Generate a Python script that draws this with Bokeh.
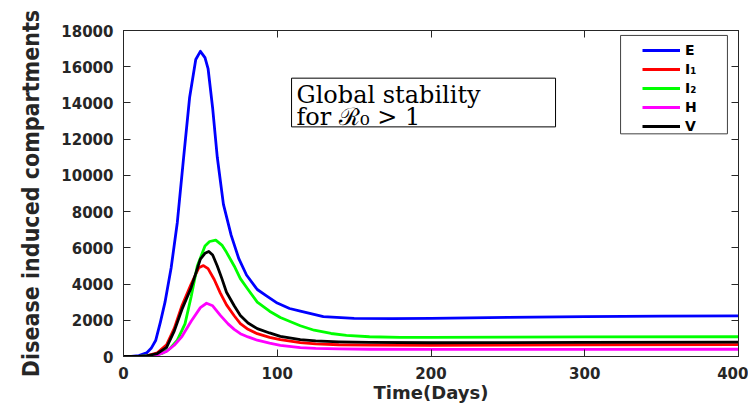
from bokeh.plotting import figure
from bokeh.models import (Range1d, LinearAxis, FixedTicker, Legend, LegendItem,
                          BoxAnnotation, Label)
from bokeh.embed import file_html
from bokeh.resources import INLINE

# ---- data ----
e_days = [0, 5, 10, 15, 18, 21, 24, 27, 31, 35, 39, 43, 47, 50, 53, 55, 58, 61, 65,
          70, 75, 80, 87, 93, 100, 108, 115, 130, 150, 175, 200, 250, 300, 350, 400]
e_vals = [0, 10, 50, 200, 450, 900, 1900, 3000, 4900, 7400, 10900, 14300, 16400,
          16850, 16500, 15900, 13700, 11000, 8400, 6700, 5400, 4500, 3700, 3350, 2950,
          2650, 2500, 2200, 2110, 2090, 2110, 2160, 2200, 2225, 2240]

i1_days = [0, 10, 15, 22, 28, 33, 38, 44, 49, 52, 55, 59, 63, 67, 72, 76, 81, 87, 95,
           102, 115, 125, 140, 160, 200, 300, 400]
i1_vals = [0, 10, 40, 200, 650, 1550, 2800, 4000, 4900, 5020, 4850, 4250, 3500, 2850,
           2250, 1820, 1500, 1260, 1060, 930, 770, 700, 650, 625, 620, 650, 660]

i2_days = [0, 10, 20, 25, 30, 35, 40, 44, 48, 53, 56, 60, 64, 67, 72, 76, 81, 87, 95,
           102, 115, 124, 135, 145, 160, 180, 200, 250, 300, 400]
i2_vals = [0, 5, 60, 170, 420, 900, 1800, 3300, 5000, 6100, 6350, 6430, 6150, 5750,
           5000, 4300, 3700, 3000, 2500, 2150, 1700, 1450, 1270, 1170, 1090, 1060, 1055,
           1065, 1080, 1090]

h_days = [0, 10, 15, 22, 28, 33, 38, 44, 50, 54, 58, 63, 68, 72, 76, 81, 87, 95, 102,
          115, 125, 140, 160, 200, 300, 400]
h_vals = [0, 5, 20, 80, 280, 620, 1100, 1950, 2700, 2940, 2800, 2270, 1800, 1500, 1260,
          1080, 900, 740, 620, 490, 450, 420, 400, 390, 390, 400]

v_days = [0, 10, 15, 22, 28, 33, 38, 44, 50, 53, 55.5, 58, 61, 64, 67, 72, 76, 81, 87,
          95, 102, 115, 125, 140, 160, 200, 300, 400]
v_vals = [0, 10, 40, 165, 500, 1400, 2600, 3800, 5380, 5700, 5800, 5600, 5000, 4300,
          3550, 2800, 2270, 1850, 1540, 1300, 1115, 930, 860, 810, 775, 760, 780, 790]

series_names = ["E", "I\u2081", "I\u2082", "H", "V"]
series_colors = ["#0000ff", "#ff0000", "#00ff00", "#ff00ff", "#000000"]

x_ticks = [0, 100, 200, 300, 400]
y_ticks = [0, 2000, 4000, 6000, 8000, 10000, 12000, 14000, 16000, 18000]

AX = "#262626"
TICK_FONT = "DejaVu Sans"

p = figure(width=748, height=405, output_backend="svg", toolbar_location=None,
           x_range=Range1d(0, 400), y_range=Range1d(0, 18000),
           min_border_left=123, min_border_right=10, min_border_top=30,
           min_border_bottom=47)
p.grid.visible = False
p.outline_line_color = AX
p.outline_line_width = 1
p.background_fill_color = "white"
p.border_fill_color = "white"

for ax in (p.xaxis[0], p.yaxis[0]):
    ax.axis_line_color = AX
    ax.major_tick_line_color = AX
    ax.major_tick_in = 7
    ax.major_tick_out = 0
    ax.minor_tick_line_color = None
    ax.major_label_text_font = TICK_FONT
    ax.major_label_text_font_style = "bold"
    ax.major_label_text_color = AX
    ax.axis_label_text_color = AX
    ax.axis_label_text_font_style = "bold"

p.xaxis[0].ticker = FixedTicker(ticks=x_ticks)
p.yaxis[0].ticker = FixedTicker(ticks=y_ticks)
p.xaxis[0].major_label_text_font_size = "15px"
p.yaxis[0].major_label_text_font_size = "15px"
p.xaxis[0].major_label_standoff = 10
p.yaxis[0].major_label_standoff = 10
p.xaxis[0].axis_label = "Time(Days)"
p.xaxis[0].axis_label_text_font = TICK_FONT
p.xaxis[0].axis_label_text_font_size = "18px"
p.xaxis[0].axis_label_standoff = 0
p.yaxis[0].axis_label = "Disease induced compartments"
p.yaxis[0].axis_label_text_font = "DejaVu Sans Condensed"
p.yaxis[0].axis_label_text_font_size = "23px"
p.yaxis[0].axis_label_standoff = 14

top_ax = LinearAxis(ticker=FixedTicker(ticks=x_ticks), major_label_text_font_size="0px",
                    major_label_standoff=0, major_tick_in=7, major_tick_out=0,
                    minor_tick_line_color=None, axis_line_color=AX,
                    major_tick_line_color=AX)
right_ax = LinearAxis(ticker=FixedTicker(ticks=y_ticks), major_label_text_font_size="0px",
                      major_label_standoff=0, major_tick_in=7, major_tick_out=0,
                      minor_tick_line_color=None, axis_line_color=AX,
                      major_tick_line_color=AX)
p.add_layout(top_ax, "above")
p.add_layout(right_ax, "right")

all_days = [e_days, i1_days, i2_days, h_days, v_days]
all_vals = [e_vals, i1_vals, i2_vals, h_vals, v_vals]
items = []
for name, col, xs, ys in zip(series_names, series_colors, all_days, all_vals):
    r = p.line(xs, ys, line_color=col, line_width=2.8, line_join="round")
    items.append(LegendItem(label=name, renderers=[r]))

# legend frame (drawn separately so the entries can sit further right)
legend_box = BoxAnnotation(left=323.3, right=392.8, top=17728, bottom=12294,
                           fill_color="white", fill_alpha=1, line_color="#404040",
                           line_alpha=1, line_width=1)
p.add_layout(legend_box)

legend = Legend(items=items, location=(519, 222))
legend.label_text_font = TICK_FONT
legend.label_text_font_style = "bold"
legend.label_text_font_size = "14px"
legend.label_text_color = "black"
legend.glyph_width = 38
legend.glyph_height = 14
legend.label_height = 14
legend.label_width = 30
legend.label_standoff = 5
legend.spacing = 3
legend.padding = 2
legend.margin = 0
legend.border_line_color = None
legend.background_fill_alpha = 0
p.add_layout(legend, "center")

box = BoxAnnotation(left=109.3, right=281.0, top=15368, bottom=12678,
                    fill_color="white", fill_alpha=1, line_color="black", line_alpha=1,
                    line_width=1)
p.add_layout(box)
p.add_layout(Label(x=112.5, y=14435, text="Global stability", text_font="DejaVu Serif",
                   text_font_size="24px", text_baseline="alphabetic", text_align="left",
                   text_color="black"))
p.add_layout(Label(x=112.5, y=13227, text="for \u211b\u2080 > 1", text_font="DejaVu Serif",
                   text_font_size="24px", text_baseline="alphabetic", text_align="left",
                   text_color="black"))

open("out.html", "w").write(file_html(p, INLINE))
